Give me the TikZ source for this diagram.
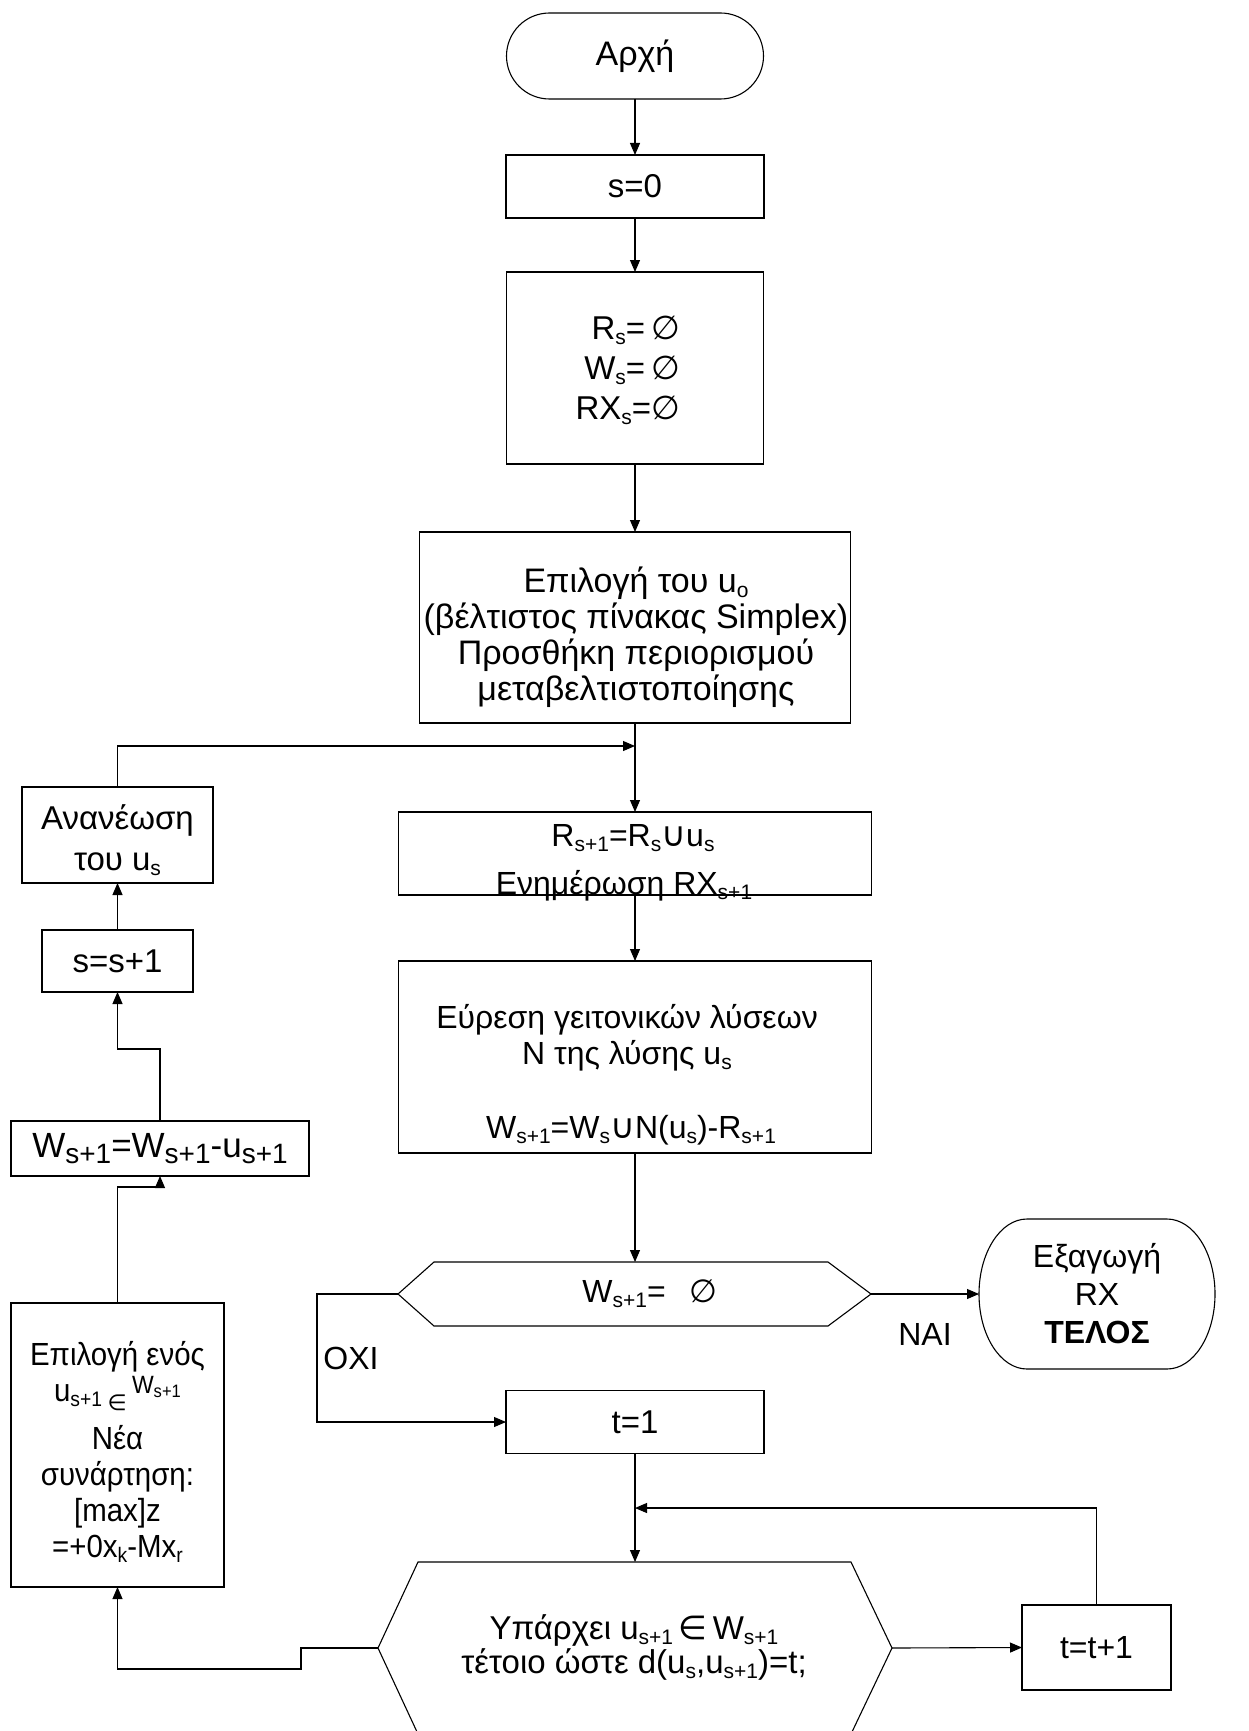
\documentclass[tikz,border=0pt]{standalone}
\usepackage{fontspec}
\setmainfont{Liberation Sans}
\newfontfamily\symf{DejaVu Sans}
\newfontfamily\narrowf[FakeStretch=0.92]{Liberation Sans}
\usetikzlibrary{arrows.meta}
% subscripts, set-theory symbols
\newcommand\sbs[1]{\raisebox{-5pt}{\fontsize{21}{21}\selectfont #1}}
\newcommand\bigsbs[1]{\raisebox{-6pt}{\fontsize{28}{28}\selectfont #1}}
\newcommand\ssbs[1]{\raisebox{-4pt}{\fontsize{18}{18}\selectfont #1}}
\newcommand\nullset{{\symf ∅}}
\newcommand\cupsym{{\symf\fontsize{34}{34}\selectfont ∪}}
\newcommand\insym{{\symf ∈}}
\begin{document}
\begin{tikzpicture}[x=1pt,y=-1pt,
  every node/.style={font=\fontsize{32}{36}\selectfont, inner sep=0pt, outer sep=0pt},
  line/.style={line width=1.1pt, draw=black},
  arr/.style={line, -{Triangle[length=12pt,width=10pt]}},
  box/.style={line, rectangle},
  txt/.style={align=center}]
\useasboundingbox (0,0) rectangle (1249,1731);
\fill[white] (0,0) rectangle (1249,1731);

% ---------------- main column ----------------
\node[box, rounded corners=43pt, minimum width=257pt, minimum height=86pt, font=\fontsize{34}{36}\selectfont] (start) at (635,56) {Αρχή};
\node[box, minimum width=258pt, minimum height=63pt, font=\fontsize{33}{36}\selectfont] (s0) at (635,186.5) {s=0};
\node[box, minimum width=257pt, minimum height=192pt] (rinit) at (635,368) {};
\node[align=right, anchor=east, font=\fontsize{33}{40}\selectfont] (rinittx) at (680,370)
  {R\sbs{s}=\hspace{6pt}\nullset\\W\sbs{s}=\hspace{6pt}\nullset\\RX\sbs{s}=\nullset};
\node[box, minimum width=431pt, minimum height=191pt] (pick) at (635,627.5) {};
\node[txt, font=\fontsize{34}{36}\selectfont] (picktx) at (636,637)
  {Επιλογή του u\sbs{o}\\(βέλτιστος πίνακας Simplex)\\Προσθήκη περιορισμού\\μεταβελτιστοποίησης};
\coordinate (join1) at (635,746);
\node[box, minimum width=473pt, minimum height=83pt] (upd) at (635,853.5) {};
\node[anchor=base] (updA) at (633,846) {R\sbs{s+1}=R\sbs{s}\cupsym u\sbs{s}};
\node[anchor=base] (updB) at (624,894) {Ενημέρωση RX\sbs{s+1}};
\node[box, minimum width=473pt, minimum height=192pt] (nbr) at (635,1057) {};
\node[anchor=base] (nbrA) at (627,1028) {Εύρεση γειτονικών λύσεων};
\node[anchor=base] (nbrB) at (627,1064) {N της λύσης u\sbs{s}};
\node[anchor=base] (nbrC) at (631,1138) {W\sbs{s+1}=W\sbs{s}\cupsym N(u\sbs{s})-R\sbs{s+1}};

% decision: W_{s+1} empty?
\coordinate (d1w) at (398,1294);
\coordinate (d1e) at (871,1294);
\draw[line] (d1w) -- (434,1262) -- (828,1262) -- (d1e) -- (828,1326) -- (434,1326) -- cycle;
\node[minimum width=394pt, minimum height=64pt] (d1) at (635,1294) {};
\node (d1tx) at (650,1294) {W\sbs{s+1}=\hspace{24pt}\nullset};

% terminal: output and end
\node[txt, minimum width=236pt, minimum height=150pt, font=\fontsize{32}{38}\selectfont] (endt) at (1097,1294)
  {Εξαγωγή\\RX\\\textbf{ΤΕΛΟΣ}};
\draw[line] (1027,1219) -- (1167,1219)
  .. controls (1193.5,1219) and (1215,1252.6) .. (1215,1294)
  .. controls (1215,1335.4) and (1193.5,1369) .. (1167,1369)
  -- (1027,1369)
  .. controls (1000.5,1369) and (979,1335.4) .. (979,1294)
  .. controls (979,1252.6) and (1000.5,1219) .. (1027,1219) -- cycle;

\node[box, minimum width=258pt, minimum height=63pt, font=\fontsize{33}{36}\selectfont] (t1) at (635,1422) {t=1};

% decision: neighbour at distance t?
\coordinate (d2w) at (378,1648);
\coordinate (d2e) at (892,1648);
\draw[line] (d2w) -- (418,1562) -- (851,1562) -- (d2e) -- (851,1734) -- (418,1734) -- cycle;
\node[minimum width=433pt, minimum height=172pt] (d2) at (635,1648) {};
\node[txt, font=\fontsize{33}{34}\selectfont] (d2tx) at (634,1647)
  {Υπάρχει u\sbs{s+1}\,\insym\,W\sbs{s+1}\\τέτοιο ώστε d(u\sbs{s},u\sbs{s+1})=t;};
\coordinate (join2) at (635,1508);

\node[box, minimum width=149pt, minimum height=85pt] (tt) at (1096.5,1647.5) {t=t+1};

% ---------------- left column ----------------
\node[box, minimum width=191pt, minimum height=96pt] (renew) at (117.5,835) {};
\node[txt, font=\fontsize{33}{41}\selectfont] (renewtx) at (117.5,840) {Ανανέωση\\του u\sbs{s}};
\node[box, minimum width=151pt, minimum height=62pt, font=\fontsize{33}{36}\selectfont] (ss1) at (117.5,961) {s=s+1};
\node[box, minimum width=298pt, minimum height=55pt, font=\fontsize{35}{36}\selectfont] (wup) at (160,1148.5)
  {W\bigsbs{s+1}=W\bigsbs{s+1}-u\bigsbs{s+1}};
\node[box, minimum width=213pt, minimum height=284pt] (sel) at (117.5,1445) {};
\node[txt, font=\narrowf\fontsize{32}{36}\selectfont] (seltx) at (117.5,1452)
  {Επιλογή ενός\\
   u\sbs{s+1}\,\raisebox{-9pt}{\symf\fontsize{22}{22}\selectfont ∈}\,\raisebox{8pt}{\fontsize{25}{25}\selectfont W\ssbs{s+1}}\\[12pt]
   Νέα\\συνάρτηση:\\{[max]z}\\=+0x\sbs{k}-Mx\sbs{r}};

% ---------------- connectors ----------------
\draw[arr] (start) -- (s0);
\draw[arr] (s0) -- (rinit);
\draw[arr] (rinit) -- (pick);
\draw[arr] (pick) -- (upd);
\draw[arr] (renew.north) |- (join1);
\draw[arr] (upd) -- (nbr);
\draw[arr] (nbr.south) -- (d1.north);
\draw[arr] (d1e) -- (endt.west);
\node (nai) at (925,1334) {NAI};
\draw[arr] (d1w) -- ++(-81,0) |- (t1.west);
\node (oxi) at (351,1358) {OXI};
\draw[arr] (t1) -- (d2.north);
\draw[arr] (d2e) -- (tt.west);
\draw[arr] (tt.north) |- (join2);
\draw[arr] (d2w) -- ++(-77,0) -- ++(0,21) -| (sel.south);
\draw[arr] (sel.north) -- ++(0,-116) -| (wup.south);
\draw[arr] (wup.north) -- ++(0,-72) -| (ss1.south);
\draw[arr] (ss1) -- (renew);
\end{tikzpicture}
\end{document}
